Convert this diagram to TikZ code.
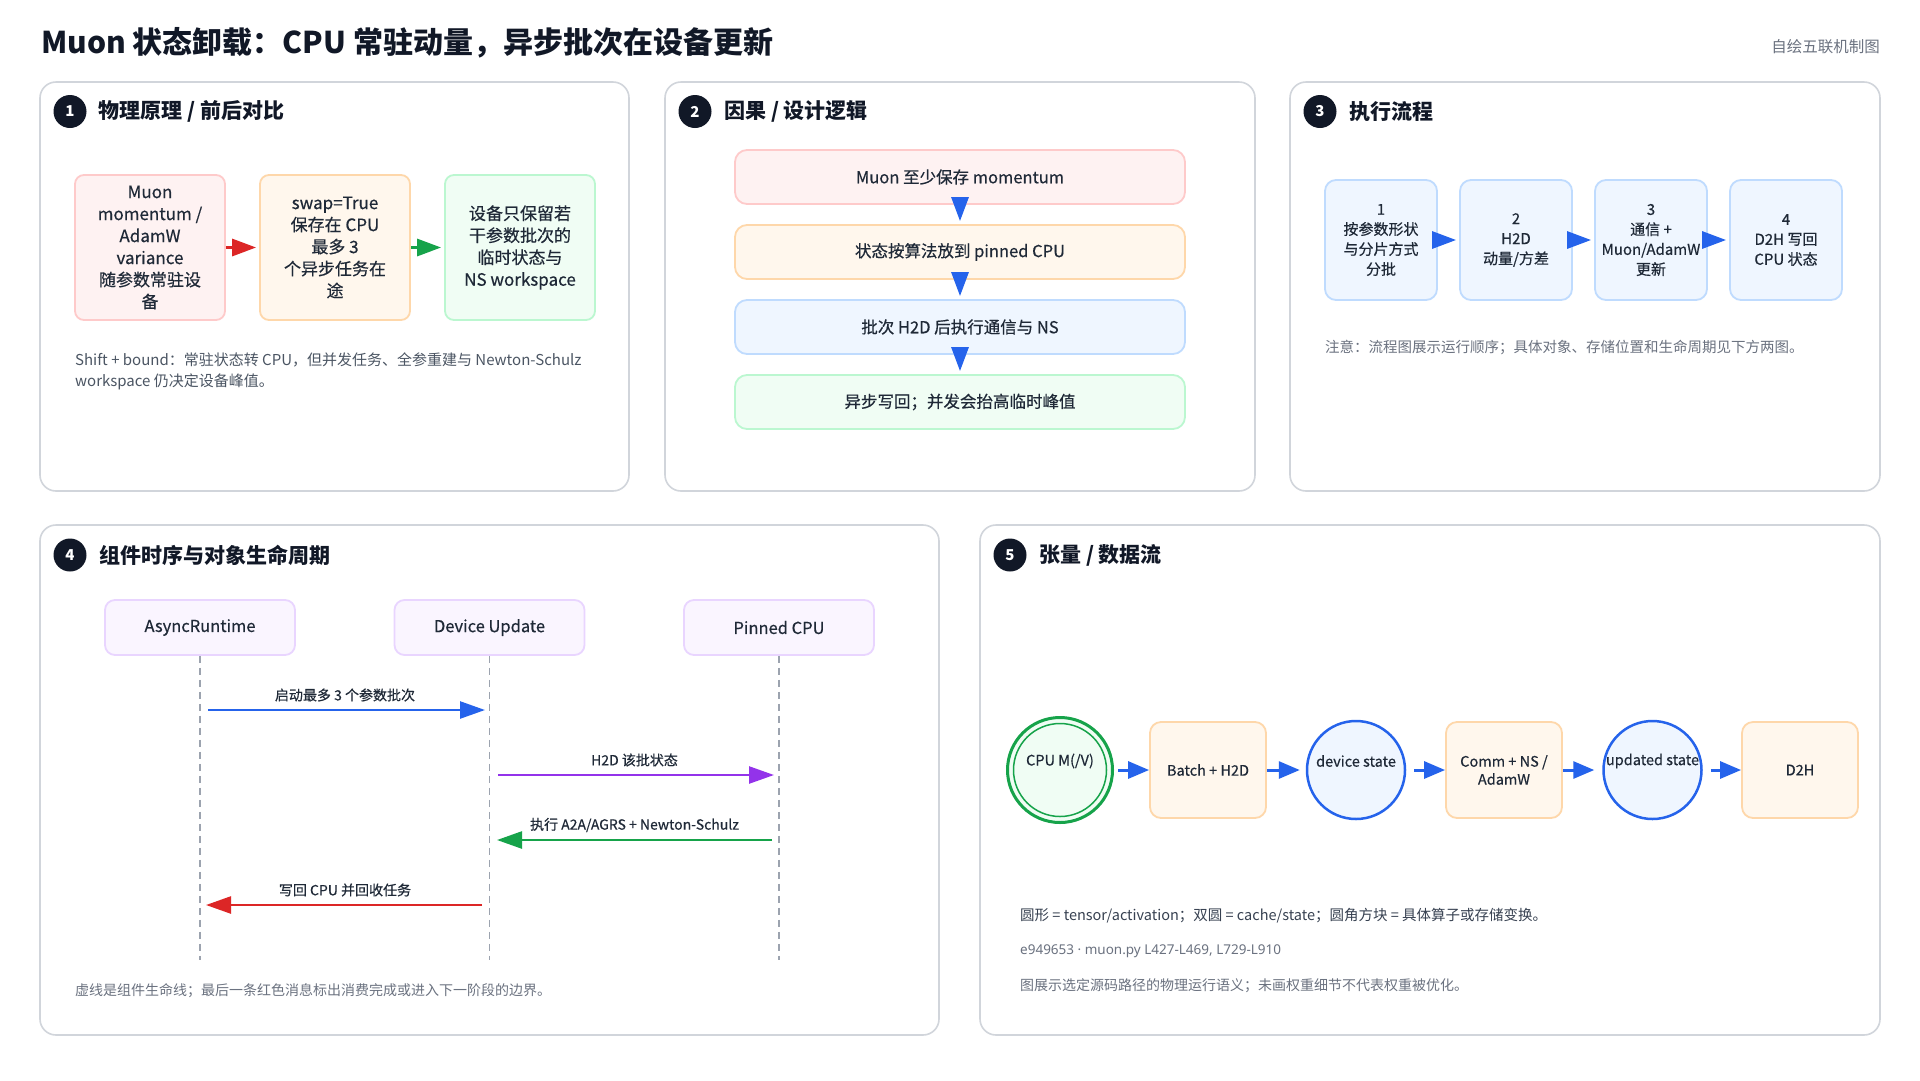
\documentclass[tikz,border=0pt]{standalone}
\usepackage{fontspec}
\setmainfont{Noto Sans CJK SC}
\newfontfamily\medfont{Noto Sans CJK SC}[FakeBold=0.45]
\newfontfamily\latinfont{Noto Sans}
\usetikzlibrary{arrows.meta,calc}
\definecolor{ink}{HTML}{111827}
\definecolor{txt}{HTML}{1F2937}
\definecolor{gray7}{HTML}{374151}
\definecolor{gray6}{HTML}{4B5563}
\definecolor{gray5}{HTML}{6B7280}
\definecolor{pborder}{HTML}{D1D5DB}
\definecolor{redF}{HTML}{FEF2F2}\definecolor{redB}{HTML}{FECACA}
\definecolor{orF}{HTML}{FFF7ED}\definecolor{orB}{HTML}{FED7AA}
\definecolor{grF}{HTML}{F0FDF4}\definecolor{grB}{HTML}{BBF7D0}
\definecolor{blF}{HTML}{EFF6FF}\definecolor{blB}{HTML}{BFDBFE}
\definecolor{puF}{HTML}{FAF5FF}\definecolor{puB}{HTML}{E9D5FF}
\definecolor{aRed}{HTML}{DC2626}\definecolor{aGreen}{HTML}{16A34A}
\definecolor{aBlue}{HTML}{2563EB}\definecolor{aPurple}{HTML}{9333EA}
\definecolor{life}{HTML}{9CA3AF}
\begin{document}
\begin{tikzpicture}[x=1pt,y=-1pt,
  pnl/.style={draw=pborder, line width=1.6pt, rounded corners=16pt, fill=white},
  bdg/.style={circle, fill=ink, text=white, minimum size=33pt, inner sep=0pt, font=\bfseries\fontsize{15}{15}\selectfont},
  ptl/.style={anchor=west, inner sep=0pt, text=ink, font=\bfseries\fontsize{21}{25}\selectfont},
  cardbox/.style={draw, line width=1.8pt, rounded corners=9pt, align=center, inner sep=0pt, text=txt},
  flowarrow/.style={line width=3pt, -{Triangle[length=24pt,width=17pt]}},
  msgarrow/.style={line width=2.5pt, -{Triangle[length=25pt,width=17pt]}},
  lifeline/.style={draw=life, line width=1.5pt, dash pattern=on 7pt off 5pt},
  notetext/.style={anchor=west, inner sep=0pt, align=left},
  msglabel/.style={inner sep=0pt, text=txt, font=\medfont\fontsize{14}{17}\selectfont},
  circlabel/.style={inner sep=0pt, text=txt, font=\medfont\fontsize{14.5}{18}\selectfont},
]
\path[use as bounding box, fill=white] (0,0) rectangle (1920,1080);

% ---------- header ----------
\node[anchor=west, inner sep=0pt, text=ink, font=\bfseries\fontsize{30}{35}\selectfont] (title) at (41,43) {Muon 状态卸载：CPU 常驻动量，异步批次在设备更新};
\node[anchor=east, inner sep=0pt, text=gray5, font=\fontsize{15.5}{18}\selectfont] (credit) at (1880,46.5) {自绘五联机制图};

% ---------- panels ----------
\draw[pnl] (40,82) rectangle (629,491);
\draw[pnl] (665,82) rectangle (1255,491);
\draw[pnl] (1290,82) rectangle (1880,491);
\draw[pnl] (40,525) rectangle (939,1035);
\draw[pnl] (980,525) rectangle (1880,1035);

% ---------- panel 1 ----------
\node[bdg] (b1) at (70,111.5) {1};
\node[ptl] (t1) at (98.5,111.5) {物理原理 / 前后对比};
\begin{scope}[every node/.append style={font=\medfont\fontsize{17}{22}\selectfont}]
\node[cardbox, draw=redB, fill=redF, minimum width=150pt, minimum height=145pt] (p1a) at (150,247.5) {Muon\\momentum /\\AdamW\\variance\\随参数常驻设\\备};
\node[cardbox, draw=orB, fill=orF, minimum width=150pt, minimum height=145pt] (p1b) at (335,247.5) {swap=True\\保存在 CPU\\最多 3\\个异步任务在\\途};
\node[cardbox, draw=grB, fill=grF, minimum width=150pt, minimum height=145pt] (p1c) at (520,247.5) {设备只保留若\\干参数批次的\\临时状态与\\NS workspace};
\end{scope}
\draw[flowarrow, aRed, shorten >=3pt] (p1a.east) -- (p1b.west);
\draw[flowarrow, aGreen, shorten >=3pt] (p1b.east) -- (p1c.west);
\node[notetext, text=gray6, font=\fontsize{15}{21}\selectfont] (n1) at (75,371.5) {Shift + bound：常驻状态转 CPU，但并发任务、全参重建与 Newton-Schulz\\workspace 仍决定设备峰值。};

% ---------- panel 2 ----------
\node[bdg] (b2) at (695,111.5) {2};
\node[ptl] (t2) at (724,111.5) {因果 / 设计逻辑};
\begin{scope}[every node/.append style={font=\medfont\fontsize{16.5}{20}\selectfont}]
\node[cardbox, draw=redB, fill=redF, minimum width=450pt, minimum height=54pt, rounded corners=12pt] (q1) at (960,177) {Muon 至少保存 momentum};
\node[cardbox, draw=orB, fill=orF, minimum width=450pt, minimum height=54pt, rounded corners=12pt] (q2) at (960,252) {状态按算法放到 pinned CPU};
\node[cardbox, draw=blB, fill=blF, minimum width=450pt, minimum height=54pt, rounded corners=12pt] (q3) at (960,327) {批次 H2D 后执行通信与 NS};
\node[cardbox, draw=grB, fill=grF, minimum width=450pt, minimum height=54pt, rounded corners=12pt] (q4) at (960,402) {异步写回；并发会抬高临时峰值};
\end{scope}
\draw[flowarrow, aBlue, shorten >=3pt] ([yshift=5pt]q1.south) -- (q2.north);
\draw[flowarrow, aBlue, shorten >=3pt] ([yshift=5pt]q2.south) -- (q3.north);
\draw[flowarrow, aBlue, shorten >=3pt] ([yshift=5pt]q3.south) -- (q4.north);

% ---------- panel 3 ----------
\node[bdg] (b3) at (1320,111.5) {3};
\node[ptl] (t3) at (1349,111.5) {执行流程};
\begin{scope}[every node/.append style={font=\medfont\fontsize{15}{20}\selectfont}]
\node[cardbox, draw=blB, fill=blF, minimum width=112pt, minimum height=120pt, rounded corners=11pt] (r1) at (1381,240) {1\\按参数形状\\与分片方式\\分批};
\node[cardbox, draw=blB, fill=blF, minimum width=112pt, minimum height=120pt, rounded corners=11pt] (r2) at (1516,240) {2\\H2D\\动量/方差};
\node[cardbox, draw=blB, fill=blF, minimum width=112pt, minimum height=120pt, rounded corners=11pt] (r3) at (1651,240) {3\\通信 +\\Muon/AdamW\\更新};
\node[cardbox, draw=blB, fill=blF, minimum width=112pt, minimum height=120pt, rounded corners=11pt] (r4) at (1786,240) {4\\D2H 写回\\CPU 状态};
\end{scope}
\draw[flowarrow, aBlue, shorten >=3pt] ([xshift=-5pt]r1.east) -- (r2.west);
\draw[flowarrow, aBlue, shorten >=3pt] ([xshift=-5pt]r2.east) -- (r3.west);
\draw[flowarrow, aBlue, shorten >=3pt] ([xshift=-5pt]r3.east) -- (r4.west);
\node[notetext, text=gray5, font=\fontsize{14.5}{18}\selectfont] (n3) at (1325,347) {注意：流程图展示运行顺序；具体对象、存储位置和生命周期见下方两图。};

% ---------- panel 4 ----------
\node[bdg] (b4) at (70,555) {4};
\node[ptl] (t4) at (99,555) {组件时序与对象生命周期};
\begin{scope}[every node/.append style={font=\medfont\fontsize{16.5}{20}\selectfont}]
\node[cardbox, draw=puB, fill=puF, minimum width=190pt, minimum height=55pt, rounded corners=10pt] (ar) at (200,627.5) {AsyncRuntime};
\node[cardbox, draw=puB, fill=puF, minimum width=190pt, minimum height=55pt, rounded corners=10pt] (du) at (489.5,627.5) {Device Update};
\node[cardbox, draw=puB, fill=puF, minimum width=190pt, minimum height=55pt, rounded corners=10pt] (pc) at (779,627.5) {Pinned CPU};
\end{scope}
\coordinate (arEnd) at (200,960);
\coordinate (duEnd) at (489.5,960);
\coordinate (pcEnd) at (779,960);
\draw[lifeline] (ar.south) -- (arEnd);
\draw[lifeline] (du.south) -- (duEnd);
\draw[lifeline] (pc.south) -- (pcEnd);
\coordinate (m1a) at (208,710);   \coordinate (m1b) at (485,710);
\coordinate (m2a) at (498,775);   \coordinate (m2b) at (774,775);
\coordinate (m3a) at (772,840);   \coordinate (m3b) at (497,840);
\coordinate (m4a) at (482,905);   \coordinate (m4b) at (206,905);
\draw[msgarrow, aBlue] (m1a) -- (m1b);
\draw[msgarrow, aPurple] (m2a) -- (m2b);
\draw[msgarrow, aGreen] (m3a) -- (m3b);
\draw[msgarrow, aRed] (m4a) -- (m4b);
\node[msglabel] (l1) at (345,695) {启动最多 3 个参数批次};
\node[msglabel] (l2) at (634.5,760) {H2D 该批状态};
\node[msglabel] (l3) at (634.5,825) {执行 A2A/AGRS + Newton-Schulz};
\node[msglabel] (l4) at (345,890) {写回 CPU 并回收任务};
\node[notetext, text=gray5, font=\fontsize{14}{17}\selectfont] (n4) at (75,991) {虚线是组件生命线；最后一条红色消息标出消费完成或进入下一阶段的边界。};

% ---------- panel 5 ----------
\node[bdg] (b5) at (1010,555) {5};
\node[ptl] (t5) at (1039,555) {张量 / 数据流};
\node[circle, draw=aGreen, fill=grF, line width=3pt, minimum size=105pt, inner sep=0pt] (cpu) at (1060,770) {};
\node[circle, draw=aGreen, line width=1.5pt, minimum size=93pt, inner sep=0pt] (cpuin) at (1060,770) {};
\node[circlabel] (cpuT) at (1060,761) {CPU M(/V)};
\node[cardbox, draw=orB, fill=orF, minimum width=116pt, minimum height=96pt, rounded corners=11pt, font=\medfont\fontsize{14.5}{18}\selectfont] (bh) at (1208,770) {Batch + H2D};
\node[circle, draw=aBlue, fill=blF, line width=2.5pt, minimum size=98pt, inner sep=0pt] (ds) at (1356,770) {};
\node[circlabel] (dsT) at (1356,761) {device state};
\node[cardbox, draw=orB, fill=orF, minimum width=116pt, minimum height=96pt, rounded corners=11pt, font=\medfont\fontsize{14.5}{18}\selectfont] (cn) at (1504,770) {Comm + NS /\\AdamW};
\node[circle, draw=aBlue, fill=blF, line width=2.5pt, minimum size=98pt, inner sep=0pt] (us) at (1652.5,770) {};
\node[circlabel] (usT) at (1652.5,761) {updated state};
\node[cardbox, draw=orB, fill=orF, minimum width=116pt, minimum height=96pt, rounded corners=11pt, font=\medfont\fontsize{14.5}{18}\selectfont] (dh) at (1800,770) {D2H};
\begin{scope}[every path/.append style={line width=3pt, aBlue, -{Triangle[length=21pt,width=17pt]}}]
\draw[shorten <=4pt] (cpu.east) -- (bh.west);
\draw[shorten >=6pt] (bh.east) -- (ds.west);
\draw[shorten <=8pt] (ds.east) -- (cn.west);
\draw[shorten >=8pt] (cn.east) -- (us.west);
\draw[shorten <=8pt] (us.east) -- (dh.west);
\end{scope}
\node[notetext, text=gray7, font=\fontsize{14.5}{18}\selectfont] (n5a) at (1020,915.5) {圆形 = tensor/activation；双圆 = cache/state；圆角方块 = 具体算子或存储变换。};
\node[notetext, text=gray5, font=\latinfont\fontsize{13.5}{17}\selectfont] (n5b) at (1020,951.5) {e949653 · muon.py L427-L469, L729-L910};
\node[notetext, text=gray5, font=\fontsize{14}{17}\selectfont] (n5c) at (1020,985.5) {图展示选定源码路径的物理运行语义；未画权重细节不代表权重被优化。};
\end{tikzpicture}
\end{document}
